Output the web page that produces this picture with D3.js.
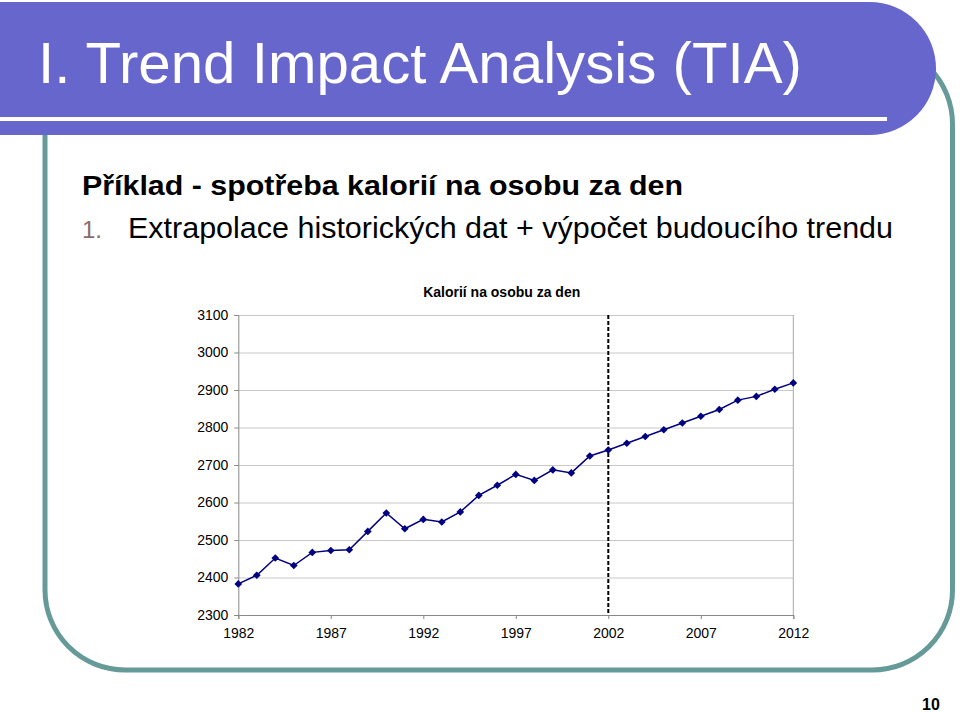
<!DOCTYPE html>
<html><head><meta charset="utf-8">
<script src="https://cdn.jsdelivr.net/npm/d3@7"></script>
<style>
html,body{margin:0;padding:0;background:#fff;}
svg{display:block;font-family:"Liberation Sans",Arial,sans-serif;}
</style></head>
<body>
<svg id="c" width="960" height="713"></svg>
<script>
const years = [1982,1983,1984,1985,1986,1987,1988,1989,1990,1991,1992,1993,1994,1995,1996,1997,1998,1999,2000,2001,2002,2003,2004,2005,2006,2007,2008,2009,2010,2011,2012];
const calories = [2383,2406,2452,2432,2467,2472,2474,2523,2572,2530,2555,2548,2575,2619,2646,2675,2659,2687,2679,2724,2740,2758,2776,2794,2812,2830,2848,2873,2883,2902,2919];
const xTickYears = [1982,1987,1992,1997,2002,2007,2012];
const yTickValues = [2300,2400,2500,2600,2700,2800,2900,3000,3100];
const splitYear = 2002;
const slideTitle = "I. Trend Impact Analysis (TIA)";
const subTitle = "Příklad - spotřeba kalorií na osobu za den";
const itemNumber = "1.";
const itemText = "Extrapolace historických dat + výpočet budoucího trendu";
const chartTitle = "Kalorií na osobu za den";
const pageNumber = "10";

const svg = d3.select("#c");

// teal frame
svg.append("rect").attr("x",45).attr("y",44).attr("width",907.5).attr("height",626)
  .attr("rx",80).attr("ry",80).attr("fill","none").attr("stroke","#669a98").attr("stroke-width",5);

// header band
svg.append("path").attr("d","M0,2 H869.5 A66.5,66.5 0 0 1 869.5,135 H0 Z").attr("fill","#6666cc");
svg.append("rect").attr("x",0).attr("y",117).attr("width",887).attr("height",4).attr("fill","#fff");
svg.append("text").attr("x",38).attr("y",83).attr("fill","#fff").attr("font-size",58)
  .attr("textLength",764).attr("lengthAdjust","spacingAndGlyphs").text(slideTitle);

svg.append("text").attr("x",82).attr("y",195).attr("font-size",27).attr("font-weight","bold")
  .attr("fill","#000").attr("textLength",601).attr("lengthAdjust","spacingAndGlyphs").text(subTitle);
svg.append("text").attr("x",82).attr("y",238).attr("font-size",24).attr("fill","#8c6b6b").text(itemNumber);
svg.append("text").attr("x",128).attr("y",238).attr("font-size",30).attr("fill","#000")
  .attr("textLength",765).attr("lengthAdjust","spacingAndGlyphs").text(itemText);

// chart
const x = d3.scaleLinear().domain([1982,2012]).range([238.3,793.3]);
const y = d3.scaleLinear().domain([2300,3100]).range([615,315]);
const pw = x.range()[1]-x.range()[0];

// gridlines
const grid = svg.append("g").attr("transform",`translate(${x.range()[0]},0)`)
  .call(d3.axisLeft(y).tickValues(yTickValues).tickSize(-pw).tickFormat(""));
grid.select(".domain").remove();
grid.selectAll("line").attr("stroke","#c8c8c8").attr("stroke-width",1);

// plot border right
svg.append("line").attr("x1",x.range()[1]).attr("x2",x.range()[1]).attr("y1",y(3100)).attr("y2",y(2300))
  .attr("stroke","#a8a8a8").attr("stroke-width",1);

// y axis
const ya = svg.append("g").attr("transform",`translate(${x.range()[0]},0)`)
  .call(d3.axisLeft(y).tickValues(yTickValues).tickSize(4).tickPadding(6).tickFormat(d3.format("d")));
ya.select(".domain").attr("stroke","#888");
ya.selectAll("line").attr("stroke","#888");
ya.selectAll("text").attr("font-size",14).attr("fill","#000").attr("font-family","Liberation Sans, Arial, sans-serif");

// x axis
const xa = svg.append("g").attr("transform",`translate(0,${y.range()[0]})`)
  .call(d3.axisBottom(x).tickValues(xTickYears).tickSize(4).tickPadding(9).tickFormat(d3.format("d")));
xa.select(".domain").attr("stroke","#888");
xa.selectAll("line").attr("stroke","#888");
xa.selectAll("text").attr("font-size",14).attr("fill","#000").attr("font-family","Liberation Sans, Arial, sans-serif");

// dashed split
svg.append("line").attr("x1",x(splitYear)).attr("x2",x(splitYear)).attr("y1",y(3100)).attr("y2",y(2300))
  .attr("stroke","#000").attr("stroke-width",2).attr("stroke-dasharray","4,2");

// line
const pts = years.map((yr,i)=>({yr, v:calories[i]}));
svg.append("path").datum(pts)
  .attr("d",d3.line().x(d=>x(d.yr)).y(d=>y(d.v)))
  .attr("fill","none").attr("stroke","#000080").attr("stroke-width",1.5);
svg.append("g").selectAll("path").data(pts).join("path")
  .attr("d",d3.symbol(d3.symbolDiamond2 || d3.symbolDiamond, 38))
  .attr("transform",d=>`translate(${x(d.yr)},${y(d.v)})`)
  .attr("fill","#000080");

svg.append("text").attr("x",501.7).attr("y",297).attr("text-anchor","middle")
  .attr("font-size",14).attr("font-weight","bold").text(chartTitle);

svg.append("text").attr("x",931).attr("y",710).attr("text-anchor","middle")
  .attr("font-size",16).attr("font-weight","bold").text(pageNumber);
</script>
</body></html>
